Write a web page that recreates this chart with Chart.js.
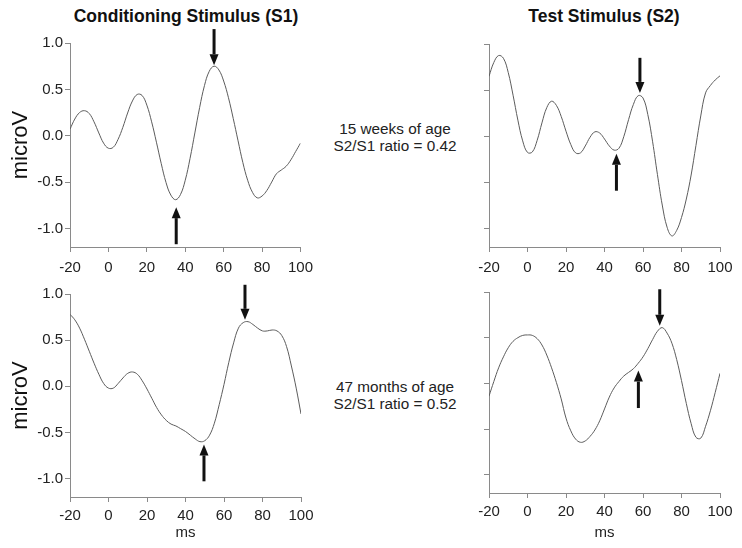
<!DOCTYPE html>
<html>
<head>
<meta charset="utf-8">
<script src="https://cdn.jsdelivr.net/npm/chart.js@4.4.0/dist/chart.umd.min.js"></script>
<style>
  body { margin: 0; background: #fff; }
  #wrap { position: relative; width: 742px; height: 548px; font-family: "Liberation Sans", Arial, sans-serif; color: #222; }
  .box { position: absolute; }
  .ttl { position: absolute; font-weight: bold; font-size: 17.5px; color: #111; transform: translate(-50%, -50%); white-space: nowrap; }
  .note { position: absolute; font-size: 15.3px; line-height: 17px; text-align: center; transform: translate(-50%, -50%); white-space: nowrap; }
</style>
</head>
<body>
<div id="wrap">
  <div class="ttl" style="left:186px;top:16px">Conditioning Stimulus (S1)</div>
  <div class="ttl" style="left:604px;top:16px">Test Stimulus (S2)</div>
  <div class="note" style="left:395px;top:137px">15 weeks of age<br>S2/S1 ratio = 0.42</div>
  <div class="note" style="left:395px;top:395px">47 months of age<br>S2/S1 ratio = 0.52</div>
  <div class="box" style="left:0;top:28px"><canvas id="c1" width="320" height="250"></canvas></div>
  <div class="box" style="left:420px;top:28px"><canvas id="c2" width="320" height="250"></canvas></div>
  <div class="box" style="left:0;top:280px"><canvas id="c3" width="320" height="268"></canvas></div>
  <div class="box" style="left:420px;top:280px"><canvas id="c4" width="320" height="268"></canvas></div>
</div>
<script>
const FONT = '"Liberation Sans", Arial, sans-serif';

// time axis (ms) of the averaged waveforms
const ms = [-20, -17.5, -15, -12.5, -10, -7.5, -5, -2.5, 0, 2.5, 5, 7.5, 10, 12.5, 15, 17.5, 20, 22.5, 25, 27.5,
  30, 32.5, 35, 37.5, 40, 42.5, 45, 47.5, 50, 52.5, 55, 57.5, 60, 62.5, 65, 67.5, 70, 72.5, 75, 77.5,
  80, 82.5, 85, 87.5, 90, 92.5, 95, 97.5, 100];

const xTicks = [-20, 0, 20, 40, 60, 80, 100];
const yTicks = [-1.0, -0.5, 0.0, 0.5, 1.0];

// 15 weeks, S1
const s1Weeks = [0.07, 0.18, 0.25, 0.27, 0.24, 0.15, 0.03, -0.08, -0.135, -0.125, -0.04, 0.09, 0.245, 0.375, 0.445, 0.435, 0.33, 0.15, -0.07, -0.30,
  -0.505, -0.64, -0.69, -0.635, -0.48, -0.245, 0.03, 0.305, 0.54, 0.695, 0.75, 0.71, 0.59, 0.41, 0.185, -0.055, -0.29, -0.48, -0.61, -0.67,
  -0.65, -0.59, -0.50, -0.41, -0.37, -0.33, -0.26, -0.17, -0.08];
// 15 weeks, S2
const s2Weeks = [0.65, 0.80, 0.875, 0.845, 0.69, 0.445, 0.175, -0.05, -0.175, -0.17, -0.045, 0.145, 0.31, 0.38, 0.335, 0.215, 0.055, -0.09, -0.18, -0.18,
  -0.105, -0.01, 0.048, 0.035, -0.03, -0.105, -0.15, -0.13, -0.005, 0.18, 0.345, 0.44, 0.415, 0.235, -0.06, -0.415, -0.745, -0.985, -1.08, -1.02,
  -0.88, -0.68, -0.42, -0.10, 0.22, 0.47, 0.55, 0.61, 0.655];
// 47 months, S1
const s1Months = [0.78, 0.72, 0.63, 0.51, 0.38, 0.25, 0.13, 0.03, -0.02, -0.02, 0.03, 0.09, 0.14, 0.155, 0.13, 0.06, -0.03, -0.13, -0.23, -0.31,
  -0.37, -0.41, -0.43, -0.46, -0.49, -0.53, -0.57, -0.60, -0.59, -0.53, -0.40, -0.20, 0.02, 0.26, 0.47, 0.63, 0.69, 0.70, 0.67, 0.63,
  0.60, 0.60, 0.61, 0.60, 0.55, 0.43, 0.22, -0.02, -0.30];
// 47 months, S2
const s2Months = [-0.14, 0.02, 0.17, 0.29, 0.39, 0.46, 0.50, 0.525, 0.53, 0.525, 0.49, 0.42, 0.31, 0.17, 0.01, -0.17, -0.38, -0.52, -0.61, -0.645,
  -0.63, -0.58, -0.51, -0.41, -0.28, -0.15, -0.05, 0.02, 0.08, 0.12, 0.16, 0.22, 0.29, 0.38, 0.48, 0.57, 0.61, 0.55, 0.44, 0.26,
  0.03, -0.22, -0.44, -0.59, -0.60, -0.47, -0.30, -0.10, 0.11];

// arrows marking the measured peaks (ms, from microV, to microV)
const arrowsS1Weeks = [{ x: 55, from: 1.15, to: 0.76 }, { x: 35.3, from: -1.17, to: -0.77 }];
const arrowsS2Weeks = [{ x: 58.4, from: 0.85, to: 0.47 }, { x: 46.2, from: -0.59, to: -0.19 }];
const arrowsS1Months = [{ x: 70.9, from: 1.10, to: 0.72 }, { x: 49.6, from: -1.03, to: -0.63 }];
const arrowsS2Months = [{ x: 68.7, from: 1.03, to: 0.63 }, { x: 57.6, from: -0.27, to: 0.14 }];

const arrowPlugin = (list) => ({
  id: "arrows",
  afterDatasetsDraw(chart) {
    const { ctx } = chart;
    const sx = chart.scales.x, sy = chart.scales.y;
    ctx.save();
    ctx.fillStyle = "#111";
    ctx.strokeStyle = "#111";
    ctx.lineWidth = 3;
    list.forEach((a) => {
      const px = sx.getPixelForValue(a.x);
      const y0 = sy.getPixelForValue(a.from);
      const y1 = sy.getPixelForValue(a.to);
      const dir = y1 > y0 ? 1 : -1;
      const head = 11;
      ctx.beginPath();
      ctx.moveTo(px, y0);
      ctx.lineTo(px, y1 - dir * head);
      ctx.stroke();
      ctx.beginPath();
      ctx.moveTo(px - 4.5, y1 - dir * head);
      ctx.lineTo(px + 4.5, y1 - dir * head);
      ctx.lineTo(px, y1);
      ctx.closePath();
      ctx.fill();
    });
    ctx.restore();
  },
});

const panel = (id, vals, arrows, o) => {
  new Chart(document.getElementById(id), {
    type: "line",
    data: {
      datasets: [
        {
          data: ms.map((x, i) => ({ x: x, y: vals[i] })),
          borderColor: "#5c5c5c",
          borderWidth: 1,
          pointRadius: 0,
          tension: 0.4,
          fill: false,
        },
      ],
    },
    options: {
      responsive: false,
      animation: false,
      layout: { padding: o.pad },
      plugins: { legend: { display: false }, tooltip: { enabled: false } },
      scales: {
        x: {
          type: "linear",
          min: -20,
          max: 100,
          afterBuildTicks: (s) => { s.ticks = xTicks.map((v) => ({ value: v })); },
          afterFit: (s) => { s.height = o.xh; },
          grid: { drawOnChartArea: false, tickLength: 5, color: "#8a8a8a" },
          border: { color: "#8a8a8a" },
          ticks: { color: "#222", padding: o.xpad, maxRotation: 0, font: { size: 15, family: FONT } },
          title: { display: o.xTitle, text: "ms", color: "#222", padding: 0, font: { size: 15, family: FONT } },
        },
        y: {
          min: -1.2,
          max: 1.0,
          afterBuildTicks: (s) => { s.ticks = yTicks.map((v) => ({ value: v })); },
          afterFit: (s) => { s.width = o.yw; },
          grid: { drawOnChartArea: false, tickLength: 5, color: "#8a8a8a" },
          border: { color: "#8a8a8a" },
          ticks: { display: o.yLabels, color: "#222", padding: 2, font: { size: 15, family: FONT }, callback: (v) => v.toFixed(1) },
          title: { display: o.yTitle, text: "microV", color: "#111", padding: { top: 8, bottom: 0 }, font: { size: 22, family: FONT } },
        },
      },
    },
    plugins: [arrowPlugin(arrows)],
  });
};

panel("c1", s1Weeks, arrowsS1Weeks, { pad: { top: 15, right: 19, bottom: 0, left: 0 }, xh: 31, xpad: 7, yw: 70, xTitle: false, yTitle: true, yLabels: true });
panel("c2", s2Weeks, arrowsS2Weeks, { pad: { top: 16, right: 20, bottom: 0, left: 0 }, xh: 31, xpad: 7, yw: 69, xTitle: false, yTitle: false, yLabels: false });
panel("c3", s1Months, arrowsS1Months, { pad: { top: 14, right: 19, bottom: 6, left: 0 }, xh: 45, xpad: 5, yw: 70, xTitle: true, yTitle: true, yLabels: true });
panel("c4", s2Months, arrowsS2Months, { pad: { top: 12, right: 20, bottom: 6, left: 0 }, xh: 49, xpad: 5, yw: 69, xTitle: true, yTitle: false, yLabels: false });
</script>
</body>
</html>
